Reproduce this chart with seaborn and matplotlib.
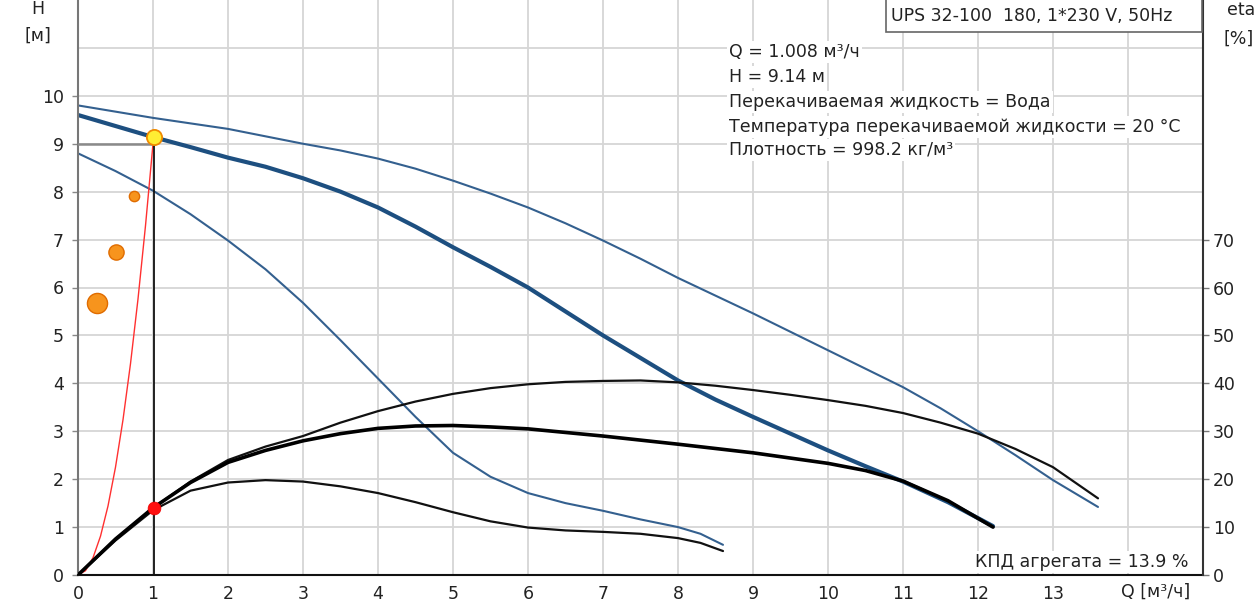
import numpy as np
import pandas as pd
import matplotlib
matplotlib.use("Agg")
import matplotlib.pyplot as plt
from matplotlib.patches import Rectangle
import seaborn as sns

# ---------------- data ----------------
# Pump head curves H [m] vs Q [m3/h]
q_top = [0, 1, 2, 3, 3.5, 4, 4.5, 5, 5.5, 6, 6.5, 7, 7.5, 8, 9, 10, 11, 11.5, 12, 12.5, 13, 13.6]
h_top = [9.8, 9.54, 9.31, 9.0, 8.86, 8.69, 8.48, 8.23, 7.96, 7.67, 7.34, 6.98, 6.6, 6.2, 5.46, 4.69,
         3.92, 3.48, 3.0, 2.5, 1.98, 1.42]

q_mid = [0, 0.5, 1, 1.5, 2, 2.5, 3, 3.5, 4, 4.5, 5, 5.5, 6, 6.5, 7, 7.5, 8, 8.5, 9, 9.5, 10, 10.5,
         11, 11.6, 12.2]
h_mid = [9.6, 9.37, 9.14, 8.93, 8.71, 8.52, 8.28, 8.0, 7.67, 7.27, 6.84, 6.43, 6.0, 5.5, 5.0, 4.53,
         4.06, 3.66, 3.3, 2.95, 2.6, 2.27, 1.95, 1.52, 1.02]

q_low = [0, 0.5, 1, 1.5, 2, 2.5, 3, 3.5, 4, 4.5, 5, 5.5, 6, 6.5, 7, 7.5, 8, 8.3, 8.6]
h_low = [8.8, 8.43, 8.02, 7.53, 6.98, 6.38, 5.68, 4.9, 4.1, 3.3, 2.55, 2.05, 1.71, 1.5, 1.34, 1.16,
         1.0, 0.86, 0.63]

# Efficiency curves eta [%]
q_eta_top = [0, 0.5, 1, 1.5, 2, 2.5, 3, 3.5, 4, 4.5, 5, 5.5, 6, 6.5, 7, 7.5, 8, 8.5, 9, 9.5, 10,
             10.5, 11, 11.5, 12, 12.5, 13, 13.6]
eta_top = [0, 7.5, 14, 19.5, 24, 26.8, 29, 31.8, 34.2, 36.2, 37.8, 39, 39.8, 40.3, 40.5, 40.6, 40.2,
           39.5, 38.6, 37.6, 36.5, 35.3, 33.8, 31.8, 29.5, 26.3, 22.5, 16]

q_eta_mid = [0, 0.5, 1, 1.5, 2, 2.5, 3, 3.5, 4, 4.5, 5, 5.5, 6, 7, 8, 9, 10, 10.5, 11, 11.6, 12.2]
eta_mid = [0, 7.5, 14, 19.3, 23.5, 26, 28, 29.5, 30.6, 31.1, 31.2, 30.9, 30.5, 29, 27.3, 25.5, 23.3,
           21.8, 19.6, 15.5, 10]

q_eta_low = [0, 0.5, 1, 1.5, 2, 2.5, 3, 3.5, 4, 4.5, 5, 5.5, 6, 6.5, 7, 7.5, 8, 8.3, 8.6]
eta_low = [0, 7.2, 13.5, 17.6, 19.3, 19.8, 19.5, 18.5, 17.1, 15.2, 13.1, 11.2, 9.9, 9.3, 9.0, 8.6,
           7.7, 6.7, 5.0]

# System curve
q_sys = [0, 0.1, 0.2, 0.3, 0.4, 0.5, 0.6, 0.7, 0.8, 0.9, 1.0, 1.008]
h_sys = [0, 0.09, 0.36, 0.81, 1.44, 2.25, 3.24, 4.41, 5.76, 7.29, 9.0, 9.14]

# Duty point
q_duty = 1.008
h_duty = 9.14
eta_duty = 13.9

# Orange markers
q_dots = [0.25, 0.51, 0.75]
h_dots = [5.67, 6.75, 7.92]
s_dots = [210, 120, 55]

x_ticks = list(range(0, 15))
x_labels = [str(i) for i in range(0, 14)] + [""]
h_ticks = list(range(0, 11))
h_grid = [11]
eta_ticks = [0, 10, 20, 30, 40, 50, 60, 70]

title_box = "UPS 32-100  180, 1*230 V, 50Hz"
info_lines = [
    "Q = 1.008 м³/ч",
    "H = 9.14 м",
    "Перекачиваемая жидкость = Вода",
    "Температура перекачиваемой жидкости = 20 °C",
    "Плотность = 998.2 кг/м³",
]
kpd_text = "КПД агрегата = 13.9 %"

# ---------------- figure ----------------
sns.set_style("white")
plt.rcParams['font.family'] = ['DejaVu Sans']

FS = 12.5
W, H = 1260, 608
fig = plt.figure(figsize=(W / 100, H / 100), dpi=100)
ax = fig.add_axes([78 / W, 33 / H, 1125 / W, 575 / H])
ax.set_xlim(0, 15)
ax.set_ylim(0, 12)

ax.set_xticks(x_ticks)
ax.set_xticklabels(x_labels)
ax.set_yticks(h_ticks)
ax.set_yticklabels([str(v) for v in h_ticks])
ax.grid(True, color="#d6d6d6", lw=1.3)
for g in h_grid:
    ax.axhline(g, color="#d6d6d6", lw=1.3, zorder=0)
ax.set_axisbelow(True)
tick_col = "#222222"
ax.tick_params(axis="x", length=4, width=1, color="#777777", pad=3, labelsize=FS, labelcolor=tick_col)
ax.tick_params(axis="y", length=4, width=1, color="#888888", pad=6, labelsize=FS, labelcolor=tick_col)
for s in ["top", "right"]:
    ax.spines[s].set_visible(False)
ax.spines["left"].set_color("#777777")
ax.spines["left"].set_linewidth(1.5)
ax.spines["bottom"].set_color("#111111")
ax.spines["bottom"].set_linewidth(1.5)

# head curves
blue_thin = "#34608f"
blue_thick = "#1d4f80"
sns.lineplot(x=q_top, y=h_top, ax=ax, color=blue_thin, lw=1.5, sort=False, estimator=None)
sns.lineplot(x=q_low, y=h_low, ax=ax, color=blue_thin, lw=1.5, sort=False, estimator=None)
sns.lineplot(x=q_mid, y=h_mid, ax=ax, color=blue_thick, lw=3.0, sort=False, estimator=None)

# system curve
sns.lineplot(x=q_sys, y=h_sys, ax=ax, color="#ff3030", lw=1.0, sort=False, estimator=None)

# duty lines
ax.plot([q_duty, q_duty], [0, h_duty], color="#111111", lw=1.3, zorder=3)
ax.plot([0, q_duty], [9.0, 9.0], color="#8a8a8a", lw=1.8, zorder=3)

# efficiency axis
ax2 = ax.twinx()
ax2.set_ylim(0, 120)
ax2.set_yticks(eta_ticks)
ax2.set_yticklabels([str(v) for v in eta_ticks])
ax2.tick_params(axis="y", length=4, width=1, color="#777777", pad=3, labelsize=FS, labelcolor=tick_col)
for s in ["top", "left", "bottom"]:
    ax2.spines[s].set_visible(False)
ax2.spines["right"].set_color("#333333")
ax2.spines["right"].set_linewidth(1.5)
ax2.grid(False)

sns.lineplot(x=q_eta_top, y=eta_top, ax=ax2, color="#111111", lw=1.6, sort=False, estimator=None)
sns.lineplot(x=q_eta_low, y=eta_low, ax=ax2, color="#111111", lw=1.6, sort=False, estimator=None)
sns.lineplot(x=q_eta_mid, y=eta_mid, ax=ax2, color="#000000", lw=2.6, sort=False, estimator=None)
ax2.set_ylabel("")
ax.set_xlabel("")
ax.set_ylabel("")

# markers
for qd, hd, sd in zip(q_dots, h_dots, s_dots):
    sns.scatterplot(x=[qd], y=[hd], ax=ax, s=sd, color="#f7941d",
                    edgecolor="#e06c00", linewidth=1, zorder=5)
sns.scatterplot(x=[q_duty], y=[eta_duty], ax=ax2, s=85, color="#ff1010", edgecolor="#ee0000",
                linewidth=0.5, zorder=6)
sns.scatterplot(x=[q_duty], y=[h_duty * 10], ax=ax2, s=120, color="#ffee33", edgecolor="#f08a00",
                linewidth=1.3, zorder=6)

# x-axis quantity label at tick 14
ax.annotate("Q [м³/ч]", xy=(14, 0), xycoords=("data", "axes fraction"),
            xytext=(-7, -17), textcoords="offset pixels", ha="left", va="center",
            fontsize=FS, color=tick_col)

# axis titles
def px(x, y):
    return x / W, 1 - y / H

fig.text(*px(38, 9), "H", ha="center", va="center", fontsize=FS, color=tick_col)
fig.text(*px(38, 36), "[м]", ha="center", va="center", fontsize=FS, color=tick_col)
fig.text(*px(1241, 10), "eta", ha="center", va="center", fontsize=FS, color=tick_col)
fig.text(*px(1239, 39), "[%]", ha="center", va="center", fontsize=FS, color=tick_col)

# title box
fig.add_artist(Rectangle(px(886, 32), (1202 - 886) / W, 36 / H, transform=fig.transFigure,
                         facecolor="white", edgecolor="#666666", lw=1.2, zorder=5))
fig.text(*px(891, 16), title_box, ha="left", va="center", fontsize=FS, color=tick_col, zorder=6)

# info block
ys = [52, 77, 102, 127, 150]
for yy, line in zip(ys, info_lines):
    fig.text(*px(729, yy), line, ha="left", va="center", fontsize=FS, color=tick_col,
             bbox=dict(facecolor="white", edgecolor="none", pad=1.5), zorder=6)

fig.text(*px(975, 562), kpd_text, ha="left", va="center", fontsize=FS, color=tick_col,
         bbox=dict(facecolor="white", edgecolor="none", pad=1.5), zorder=6)

fig.savefig("out.png", dpi=100)
